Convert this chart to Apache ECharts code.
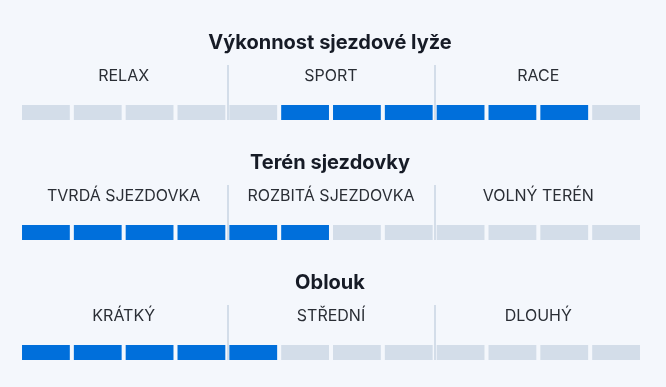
<!DOCTYPE html>
<html>
<head>
<meta charset="utf-8">
<style>
  html, body { margin: 0; padding: 0; background: #f4f7fc; }
  #chart { width: 666px; height: 387px; }
</style>
<script src="https://cdn.jsdelivr.net/npm/echarts@6/dist/echarts.min.js"></script>
</head>
<body>
<div id="chart"></div>
<script>
const sectionTitles = ['Výkonnost sjezdové lyže', 'Terén sjezdovky', 'Oblouk'];
const levelLabels1 = ['RELAX', 'SPORT', 'RACE'];
const levelLabels2 = ['TVRDÁ SJEZDOVKA', 'ROZBITÁ SJEZDOVKA', 'VOLNÝ TERÉN'];
const levelLabels3 = ['KRÁTKÝ', 'STŘEDNÍ', 'DLOUHÝ'];
const filled1 = [0, 0, 0, 0, 0, 1, 1, 1, 1, 1, 1, 0];
const filled2 = [1, 1, 1, 1, 1, 1, 0, 0, 0, 0, 0, 0];
const filled3 = [1, 1, 1, 1, 1, 0, 0, 0, 0, 0, 0, 0];
const separators = [4, 8];

const labelsAll = [levelLabels1, levelLabels2, levelLabels3];
const filledAll = [filled1, filled2, filled3];

const BLUE = '#006fdb';
const GRAY = '#d3dde9';
const FONT = 'Inter, "Noto Sans", sans-serif';

const sectionTop = [65, 185, 305];
const titleTop = [33, 153, 273];

const option = {
  backgroundColor: '#f4f7fc',
  animation: false,
  title: sectionTitles.map((t, i) => ({
    text: t,
    left: 330,
    textAlign: 'center',
    top: titleTop[i],
    padding: 0,
    textStyle: { fontFamily: FONT, fontSize: 20, fontWeight: 700, color: '#161b26' }
  })),
  grid: sectionTop.map(t => ({ left: 20, width: 622, top: t, height: 55 })),
  xAxis: [],
  yAxis: [],
  series: []
};

filledAll.forEach((filled, g) => {
  option.xAxis.push({
    type: 'value', gridIndex: g, min: 0, max: filled.length, show: false
  });
  option.xAxis.push({
    type: 'category', gridIndex: g, position: 'top', data: labelsAll[g],
    axisLine: { show: false }, axisTick: { show: false }, splitLine: { show: false },
    axisLabel: {
      interval: 0, hideOverlap: false,
      inside: true, margin: 11, verticalAlign: 'middle',
      fontFamily: FONT, fontSize: 16, color: '#2a2e35'
    }
  });
  option.yAxis.push({
    type: 'value', gridIndex: g, min: 0, max: 55 / 15, show: false
  });
  option.series.push({
    type: 'bar',
    xAxisIndex: g * 2,
    yAxisIndex: g,
    barWidth: 47.8,
    silent: true,
    data: filled.map((f, i) => ({
      value: [i + 0.5, 1],
      itemStyle: { color: f ? BLUE : GRAY }
    })),
    markLine: {
      silent: true,
      symbol: 'none',
      label: { show: false },
      lineStyle: { color: GRAY, width: 2, type: 'solid' },
      data: separators.map(s => ({ xAxis: s }))
    }
  });
});

const chart = echarts.init(document.getElementById('chart'), null, { renderer: 'canvas' });
chart.setOption(option);
</script>
</body>
</html>
